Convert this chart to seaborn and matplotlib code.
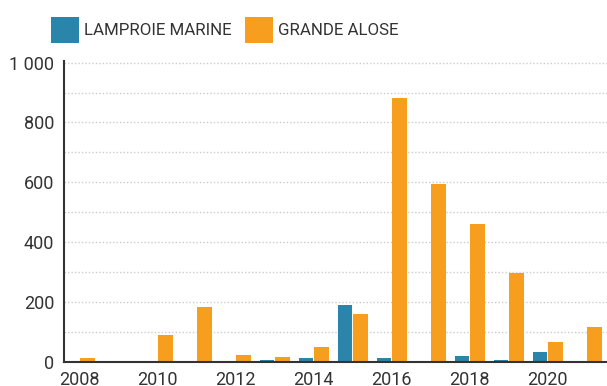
import matplotlib
matplotlib.use("Agg")
import matplotlib.pyplot as plt
from matplotlib.patches import Patch
from matplotlib.ticker import FixedLocator, MultipleLocator, FuncFormatter, NullFormatter
import seaborn as sns
import pandas as pd

# Annual counts of migratory fish
years = list(range(2008, 2022))
lamproie_marine = [0, 2, 0, 0, 2, 6, 13, 189, 13, 0, 20, 6, 33, 3]
grande_alose = [14, 3, 90, 183, 22, 17, 50, 159, 882, 595, 459, 296, 67, 116]
series_names = ["LAMPROIE MARINE", "GRANDE ALOSE"]
series_colors = ["#2b84a9", "#f79e1f"]

df = pd.DataFrame({
    "year": [str(y) for y in years] * 2,
    "value": lamproie_marine + grande_alose,
    "species": [series_names[0]] * len(years) + [series_names[1]] * len(years),
})

sns.set_style("white")
plt.rcParams["font.family"] = ["Roboto", "DejaVu Sans"]
text_color = "#333333"

fig = plt.figure(figsize=(6.07, 3.86), dpi=100)
ax = fig.add_axes([64 / 607, (386 - 361.7) / 386, 1 - 64 / 607, (361.7 - 60.6) / 386])

sns.barplot(data=df, x="year", y="value", hue="species", order=[str(y) for y in years],
            hue_order=series_names, palette=series_colors, saturation=1,
            width=0.8, gap=0.06, linewidth=0, legend=False, ax=ax)

ax.set_xlim(-0.405, 13.52)
ax.set_ylim(0, 1007)
ax.set_xlabel("")
ax.set_ylabel("")

for side in ("top", "right"):
    ax.spines[side].set_visible(False)
for side in ("left", "bottom"):
    ax.spines[side].set_color(text_color)
    ax.spines[side].set_linewidth(1.5)

# y axis: labelled every 200, tick marks and dotted grid every 100
ax.yaxis.set_major_locator(MultipleLocator(200))
ax.yaxis.set_minor_locator(MultipleLocator(100))
ax.yaxis.set_major_formatter(FuncFormatter(lambda v, p: f"{int(v):,}".replace(",", " ")))
ax.grid(axis="y", which="both", linestyle=(0, (1, 1.5)), color="#cccccc", linewidth=1)
ax.set_axisbelow(True)

# x axis: labels on every other year, tick marks between years
ax.xaxis.set_major_locator(FixedLocator(list(range(0, len(years), 2))))
ax.set_xticklabels([str(y) for y in years[::2]])
ax.xaxis.set_minor_locator(FixedLocator([i + 0.5 for i in range(len(years) - 1)]))
ax.xaxis.set_minor_formatter(NullFormatter())

ax.tick_params(axis="x", which="major", length=0, labelsize=13, labelcolor=text_color, pad=7)
ax.tick_params(axis="x", which="minor", length=6, width=1.5, direction="inout", color=text_color)
ax.tick_params(axis="y", which="both", length=6, width=1.5, direction="inout", color=text_color,
               labelsize=13, labelcolor=text_color, pad=4)

handles = [Patch(facecolor=c, edgecolor="none", label=n) for c, n in zip(series_colors, series_names)]
fig.legend(handles=handles, loc="center left", bbox_to_anchor=(50.7 / 607, 1 - 30 / 386),
           ncol=2, frameon=False, fontsize=12.2, handlelength=1.65, handleheight=1.9,
           handletextpad=0.3, columnspacing=0.8, labelcolor=text_color,
           borderpad=0, borderaxespad=0)

fig.savefig("out.png", dpi=100)
